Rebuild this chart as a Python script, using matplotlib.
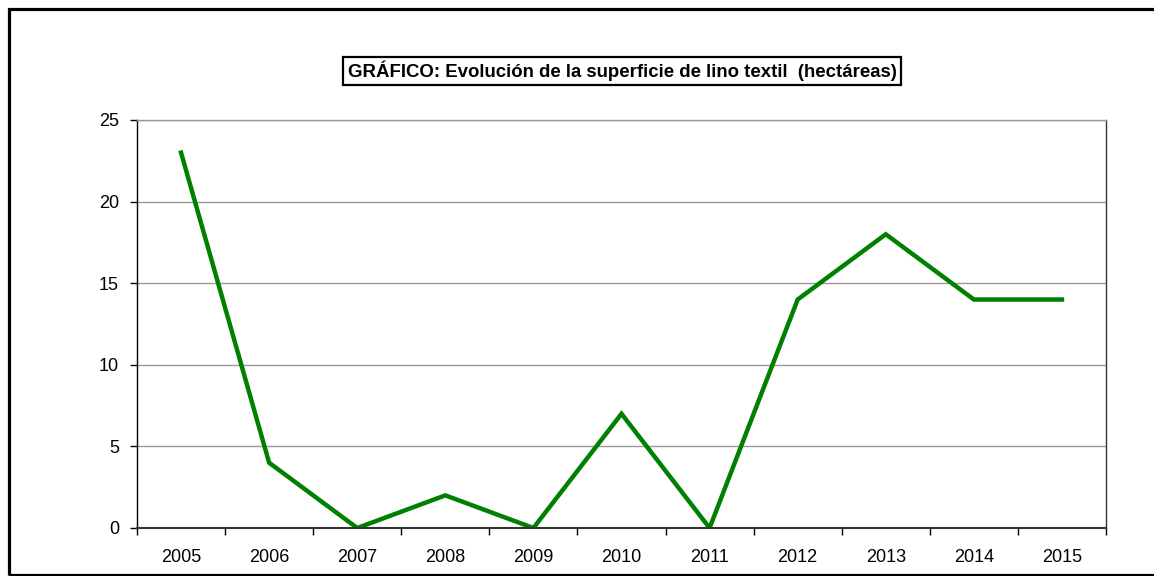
import matplotlib
matplotlib.use("Agg")
import matplotlib.pyplot as plt
from matplotlib.patches import Rectangle
from matplotlib.ticker import FixedLocator

years = ["2005", "2006", "2007", "2008", "2009", "2010", "2011", "2012", "2013", "2014", "2015"]
hectareas = [23, 4, 0, 2, 0, 7, 0, 14, 18, 14, 14]
title = "GRÁFICO: Evolución de la superficie de lino textil  (hectáreas)"

plt.rcParams['font.family'] = ['Liberation Sans', 'DejaVu Sans']

W, H = 1154, 576
fig = plt.figure(figsize=(W / 100, H / 100), dpi=100)
fig.patch.set_facecolor("white")

# outer frame
fig.patches.append(Rectangle((8.5 / W, 1 - 575 / H), (1170 - 8.5) / W, (575 - 8.5) / H,
                             transform=fig.transFigure, fill=False, edgecolor="black",
                             linewidth=2.3, clip_on=False))

L, R, T, B = 137, 1106, 120, 528
ax = fig.add_axes([L / W, 1 - B / H, (R - L) / W, (B - T) / H])

x = list(range(len(years)))
ax.plot(x, hectareas, color="#008000", linewidth=3.2, solid_joinstyle="miter")

ax.set_xlim(-0.5, len(years) - 0.5)
ax.set_ylim(0, 25)
ax.set_yticks([0, 5, 10, 15, 20, 25])
ax.set_xticks(x)
ax.set_xticklabels(years)
ax.xaxis.set_minor_locator(FixedLocator([i - 0.5 for i in range(len(years) + 1)]))
ax.tick_params(axis="x", which="major", length=0, pad=15, labelsize=13)
ax.tick_params(axis="x", which="minor", length=5, width=1, color="black", direction="out")
ax.tick_params(axis="y", length=5, width=1, color="black", pad=8, labelsize=13)

ax.yaxis.grid(True, color="#999999", linewidth=1)
ax.set_axisbelow(True)
for s in ["left", "bottom"]:
    ax.spines[s].set_color("black")
    ax.spines[s].set_linewidth(1)
ax.spines["bottom"].set_linewidth(1.5)
ax.spines["bottom"].set_color("#333333")
ax.spines["top"].set_color("#999999")
ax.spines["top"].set_linewidth(1)
ax.spines["right"].set_color("#333333")
ax.spines["right"].set_linewidth(1)

fig.text(622 / W, 1 - 71 / H, title, ha="center", va="center", fontsize=13.4,
         fontweight="bold",
         bbox=dict(boxstyle="square,pad=0.22", facecolor="white", edgecolor="black",
                   linewidth=1.6))

fig.savefig("out.png", dpi=100)
